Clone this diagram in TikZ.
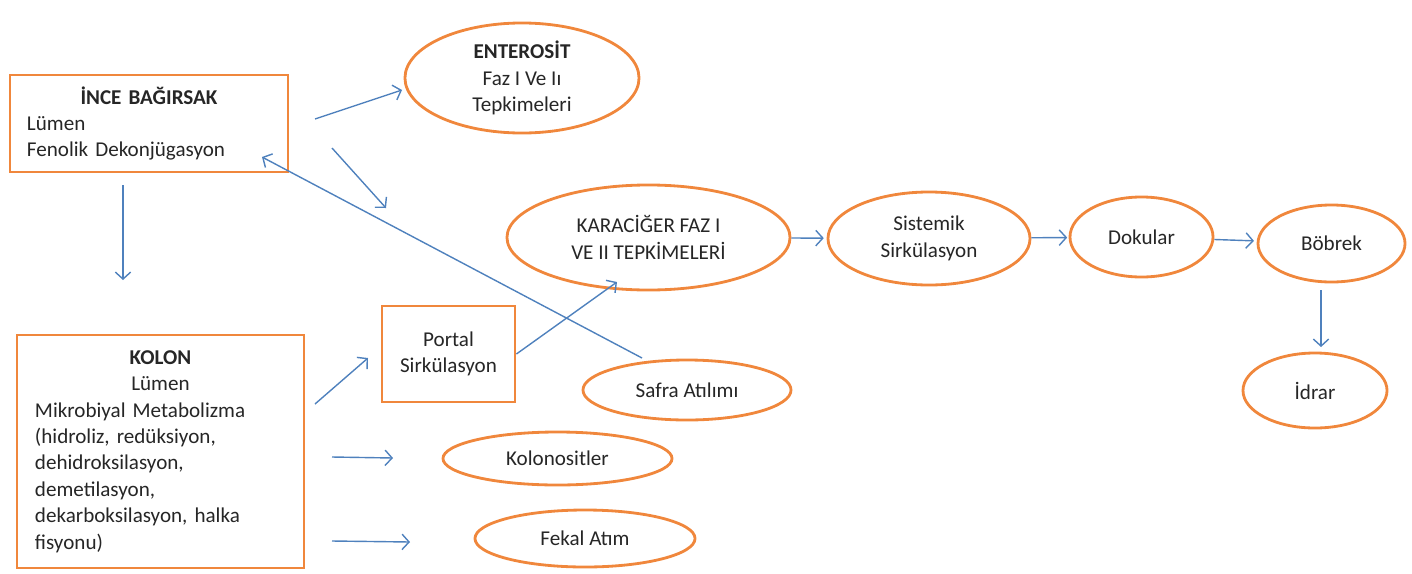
\documentclass[tikz,border=0pt]{standalone}
\usepackage{fontspec}
\setmainfont{Carlito}
\usetikzlibrary{shapes.geometric,arrows.meta}
\definecolor{turuncu}{RGB}{240,135,60}
\definecolor{mavi}{RGB}{79,129,189}
\setlength{\parindent}{0pt}

\begin{document}
\begin{tikzpicture}[x=0.025cm,y=-0.025cm,>={Straight Barb[length=5pt,width=11pt]},
  every node/.style={font=\fontsize{15}{18.8}\selectfont,text=black!85},
  kutu/.style={rectangle,draw=turuncu,line width=2pt,inner sep=0pt,align=left},
  elips/.style={ellipse,draw=turuncu,line width=2pt,inner sep=0pt,align=center},
  ok/.style={->,color=mavi,line width=1pt}]
\useasboundingbox (0,0) rectangle (1412,573);

% kutular
\node[kutu,minimum width=6.95cm,minimum height=2.425cm,text width=6.1cm] (ince) at (149,123.5)
  {{\centering\textbf{İNCE BAĞIRSAK}\par}Lümen\\Fenolik Dekonjügasyon};
\node[kutu,minimum width=7.175cm,minimum height=5.825cm,text width=6.275cm] (kolon) at (160.5,451.5)
  {{\centering\textbf{KOLON}\\Lümen\par}Mikrobiyal Metabolizma\\(hidroliz, redüksiyon,\\dehidroksilasyon,\\demetilasyon,\\dekarboksilasyon, halka\\fisyonu)};
\node[kutu,minimum width=3.325cm,minimum height=2.4cm,align=center] (portal) at (448.5,354) {Portal\\Sirkülasyon};

% elipsler
\node[elips,minimum width=5.85cm,minimum height=2.75cm] (enterosit) at (522,78) {\textbf{ENTEROSİT}\\Faz I Ve Iı\\Tepkimeleri};
\node[elips,minimum width=7.075cm,minimum height=2.625cm] (kara) at (648.5,237.5) {KARACİĞER FAZ I\\VE II TEPKİMELERİ};
\node[elips,minimum width=5.05cm,minimum height=2.325cm] (sist) at (929,238.5) {Sistemik\\Sirkülasyon};
\node[elips,minimum width=3.575cm,minimum height=2cm] (dok) at (1141.5,237) {Dokular};
\node[elips,minimum width=3.675cm,minimum height=1.925cm] (bob) at (1331.5,243.5) {Böbrek};
\node[elips,minimum width=3.6cm,minimum height=1.875cm] (idrar) at (1315,390.5) {İdrar};
\node[elips,minimum width=5.2cm,minimum height=1.5cm] (safra) at (687,390) {Safra Atılımı};
\node[elips,minimum width=5.725cm,minimum height=1.325cm] (kolonosit) at (557.5,458.5) {Kolonositler};
\node[elips,minimum width=5.5cm,minimum height=1.425cm] (fekal) at (585,538.5) {Fekal Atım};

% serbest uclar
\coordinate (i1) at (315,119);  \coordinate (i2) at (402,90);
\coordinate (i3) at (332,148);  \coordinate (i4) at (386,208);
\coordinate (i5) at (123,185);  \coordinate (i6) at (123,280);
\coordinate (s1) at (642,358);  \coordinate (s2) at (262,157);
\coordinate (k1) at (315,404);  \coordinate (k2) at (368,358);
\coordinate (k3) at (332,457);  \coordinate (k4) at (393,458);
\coordinate (k5) at (332,541);  \coordinate (k6) at (410,542);
\coordinate (p1) at (617,282);
\coordinate (b1) at (1321,290); \coordinate (b2) at (1321,347);

\path[ok] (i1) edge (i2) (i3) edge (i4) (i5) edge (i6)
  (s1) edge (s2)
  (k1) edge (k2) (k3) edge (k4) (k5) edge (k6)
  (portal.east) edge (p1)
  (kara) edge[shorten >=2pt] (sist)
  (sist) edge[shorten >=1pt] (dok)
  (dok) edge[shorten >=2pt] (bob)
  (b1) edge (b2);
\end{tikzpicture}
\end{document}
